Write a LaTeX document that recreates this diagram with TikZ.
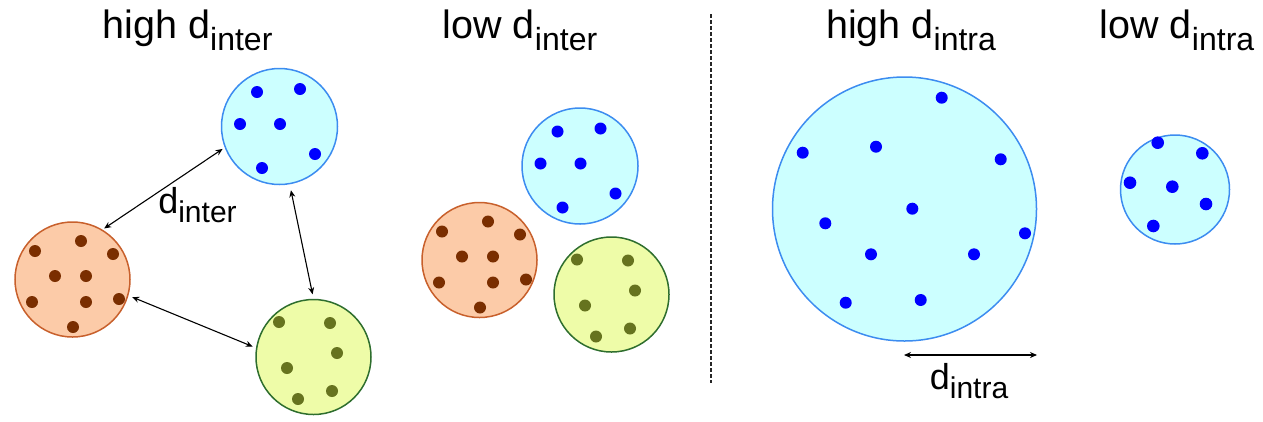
\documentclass[tikz,border=0pt]{standalone}
\usepackage{fontspec}
\setmainfont{Liberation Sans}
\usetikzlibrary{arrows.meta}

\definecolor{cyanfill}{HTML}{CCFFFF}
\definecolor{cyanedge}{HTML}{3C8CF0}
\definecolor{bluedotc}{HTML}{0000FF}
\definecolor{orangefill}{HTML}{FCCBA8}
\definecolor{orangeedge}{HTML}{C8602C}
\definecolor{browndotc}{HTML}{7A2E00}
\definecolor{greenfill}{HTML}{EEFCA8}
\definecolor{greenedge}{HTML}{2E6E2E}
\definecolor{olivedotc}{HTML}{66731F}

% lowered, smaller text for the subscripts
\newcommand\lowtext[3]{\raisebox{-#2}{\fontsize{#1}{#1}\selectfont #3}}
\newcommand\titlesub[1]{\lowtext{32pt}{12pt}{#1}}
\newcommand\labelsub[1]{\lowtext{30pt}{9pt}{#1}}

\begin{document}
\begin{tikzpicture}[x=1pt,y=-1pt,
  cluster/.style={circle, line width=1.5pt, inner sep=0pt},
  bluecl/.style={cluster, draw=cyanedge, fill=cyanfill},
  orangecl/.style={cluster, draw=orangeedge, fill=orangefill},
  greencl/.style={cluster, draw=greenedge, fill=greenfill},
  bluedot/.style={fill=bluedotc},
  browndot/.style={fill=browndotc},
  olivedot/.style={fill=olivedotc},
  title/.style={anchor=base, inner sep=0pt, font=\fontsize{39.5}{41}\selectfont},
  dlabel/.style={anchor=base, inner sep=0pt, font=\fontsize{36}{38}\selectfont},
  link/.style={{Stealth[length=7pt,width=6pt]}-{Stealth[length=7pt,width=6pt]}, line width=1.1pt, black},
  divider/.style={line width=1.5pt, black!85, dash pattern=on 4pt off 2pt}
]
\useasboundingbox (0,0) rectangle (1263,421);

% ---- headings ----
\node[title] (h1) at (187.5,38) {high d\titlesub{inter}};
\node[title] (h2) at (520,38) {low d\titlesub{inter}};
\node[title] (h3) at (911,38) {high d\titlesub{intra}};
\node[title] (h4) at (1177,38) {low d\titlesub{intra}};

% ---- separated clusters ----
\node[bluecl, minimum size=116pt] (ba) at (279.5,126.5) {};
\node[orangecl, minimum size=115pt] (oa) at (72.5,279.5) {};
\node[greencl, minimum size=115pt] (ga) at (313.5,357) {};

% ---- packed clusters ----
\node[bluecl, minimum size=116pt] (bb) at (580,166) {};
\node[orangecl, minimum size=115pt] (ob) at (479.5,260) {};
\node[greencl, minimum size=115pt] (gb) at (611.5,294.5) {};

% points inside each cluster
\foreach \c in {ba,bb}{
  \begin{scope}[shift={(\c.center)}]
    \foreach \dx/\dy in {-22.5/-34.5, 20.5/-37.5, -39.5/-2.5, 0.5/-2.5, 35.5/27.5, -17.5/41.5}
      \fill[bluedot] (\dx,\dy) circle[radius=6pt];
  \end{scope}
}
\foreach \c in {oa,ob}{
  \begin{scope}[shift={(\c.center)}]
    \foreach \dx/\dy in {-37.5/-28.5, 8.5/-38.5, 40.5/-25.5, -17.5/-3.5, 13.5/-3.5, -40.5/22.5, 13.5/22.5, 46.5/19.5, 0.5/47.5}
      \fill[browndot] (\dx,\dy) circle[radius=6pt];
  \end{scope}
}
\foreach \c in {ga,gb}{
  \begin{scope}[shift={(\c.center)}]
    \foreach \dx/\dy in {-34.5/-35, 16.5/-34, 23.5/-4, -26.5/11, 18.5/34, -15.5/42}
      \fill[olivedot] (\dx,\dy) circle[radius=6pt];
  \end{scope}
}

% ---- distances between clusters ----
\draw[link, shorten <=2pt, shorten >=2.5pt] (oa.59) -- (ba.201);
\draw[link, shorten <=6pt, shorten >=4.5pt] (ba.280) -- (ga.90);
\draw[link, shorten <=4pt, shorten >=3.5pt] (oa.344) -- (ga.171);
\node[dlabel] (li) at (197.5,213) {d\labelsub{inter}};

% ---- divider ----
\coordinate (dtop) at (711,14);
\coordinate (dbot) at (711,383);
\draw[divider] (dtop) -- (dbot);

% ---- wide cluster ----
\node[bluecl, minimum size=264pt] (wide) at (904.5,209) {};
\foreach \x/\y in {941.7/97.7, 802.7/152.7, 876/146.7, 1000.7/159.3, 912.3/208.7, 825.3/223.3, 1025/233.3, 871/254.3, 974/254.3, 845.7/302.7, 920.7/300}
  \fill[bluedot] (\x,\y) circle[radius=6pt];
\coordinate (ra) at (904,355);
\coordinate (rb) at (1037,355);
\draw[link] (ra) -- (rb);
\node[dlabel] (lr) at (969,389) {d\labelsub{intra}};

% ---- tight cluster ----
\node[bluecl, minimum size=109pt] (tight) at (1175,189.5) {};
\foreach \x/\y in {1157.7/142.7, 1202.3/153.3, 1130/182.7, 1172.3/186.7, 1206/204, 1153.3/226}
  \fill[bluedot] (\x,\y) circle[radius=6.3pt];
\end{tikzpicture}
\end{document}
